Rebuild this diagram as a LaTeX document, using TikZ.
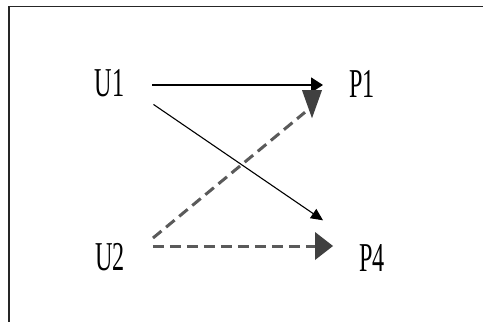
\documentclass[tikz,border=0pt]{standalone}
\usepackage{fontspec}
\setmainfont{Liberation Serif}
\usetikzlibrary{arrows.meta}
\definecolor{dashgrey}{HTML}{5A5A5A}
\definecolor{headgrey}{HTML}{404040}
\tikzset{
  lbl/.style={inner sep=0pt, font=\fontsize{41}{41}\selectfont},
  framebox/.style={line width=1.5pt, black!85},
  solidarrow/.style={line width=1.6pt, -{Triangle[length=12pt,width=15pt]}},
  thinarrow/.style={line width=1.1pt, -{Triangle[length=12pt,width=11pt]}},
  dasharrow/.style={line width=3pt, dashgrey, dash pattern=on 11pt off 6pt},
  grayhead/.style={fill=headgrey, draw=none}
}
\newcommand{\narrowtxt}[1]{\scalebox{0.59}[1]{#1}}
\begin{document}
\begin{tikzpicture}[x=1pt,y=-1pt]
\useasboundingbox (0,0) rectangle (483,322);
\clip (0,0) rectangle (483,322);
\fill[white] (0,0) rectangle (483,322);
\draw[framebox] (9,340) -- (9,6.5) -- (500,6.5);

\node[lbl] (U1) at (109.5,83.5) {\narrowtxt{U1}};
\node[lbl] (P1) at (362,83.5) {\narrowtxt{P1}};
\node[lbl] (U2) at (110,257) {\narrowtxt{U2}};
\node[lbl] (P4) at (372,258) {\narrowtxt{P4}};

% U1 -> P1
\draw[solidarrow] ([xshift=28pt,yshift=-1.5pt]U1.east) -- ([xshift=-26pt,yshift=-1.5pt]P1.west);
% U1 -> P4
\draw[thinarrow] ([xshift=29pt,yshift=-7pt]U1.south east) -- ([xshift=-36pt,yshift=24pt]P4.north west);
% U2 -> P1 (dashed, head drawn pointing down)
\coordinate (h1) at ([xshift=-50pt,yshift=-21pt]P1.south);
\draw[dasharrow] ([xshift=28pt,yshift=5pt]U2.north east) -- ([xshift=-7pt,yshift=6pt]h1);
\fill[grayhead] ([xshift=-10pt,yshift=28pt]h1) -- ([xshift=10pt,yshift=28pt]h1) -- (h1) -- cycle;
% U2 -> P4 (dashed)
\coordinate (h4) at ([xshift=-26pt,yshift=12pt]P4.west);
\draw[dasharrow] ([xshift=28pt,yshift=11pt]U2.east) -- ([xshift=-17pt]h4);
\fill[grayhead] ([xshift=-18pt,yshift=14pt]h4) -- ([xshift=-18pt,yshift=-14pt]h4) -- (h4) -- cycle;
\end{tikzpicture}
\end{document}
